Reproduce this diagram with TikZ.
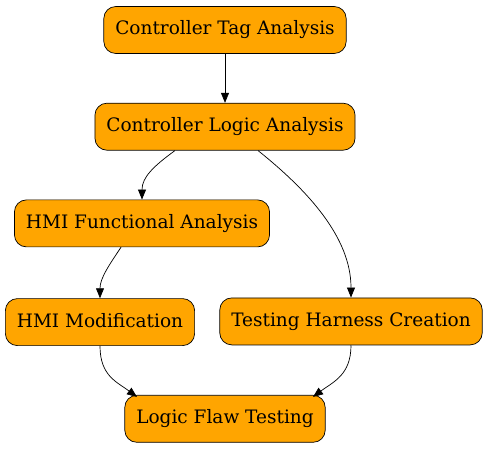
\documentclass[tikz,border=0pt]{standalone}
\usepackage{fontspec}
\setmainfont{DejaVu Serif}
\usepackage{tikz}
\usetikzlibrary{arrows.meta,positioning}

\begin{document}
\begin{tikzpicture}[-{Triangle[length=10pt,width=8pt]},line width=0.7pt,
                    task/.style={draw,fill=orange!100,rounded corners=12pt,
                      minimum height=47pt,inner xsep=11.5pt,
                      text height=13.5pt,text depth=3.5pt,
                      font=\fontsize{18.5}{22}\selectfont}]
  \definecolor{orange}{HTML}{FFA500}
  \useasboundingbox (0,0) rectangle (490pt,-449pt);

  \node[task] (CTA) at (225pt,-30pt)              {Controller Tag Analysis};
  \node[task] (CLA) [below=49pt of CTA]           {Controller Logic Analysis};
  \node[task] (HFA) [below=49pt of CLA,xshift=-83pt] {HMI Functional Analysis};
  \node[task] (HM)  [below=51pt of HFA,xshift=-42pt] {HMI Modification};
  \node[task] (THC) [below=147pt of CLA,xshift=126pt] {Testing Harness Creation};
  \node[task] (LFT) [below=49pt of HM,xshift=125pt]  {Logic Flaw Testing};

  \draw (CTA) -- (CLA);
  \draw ([xshift=-50pt]CLA.south) .. controls +(-22pt,-16pt) and +(0pt,22pt) .. (HFA.north);
  \draw ([xshift=33pt]CLA.south) .. controls +(50pt,-40pt) and +(0pt,60pt) .. (THC.north);
  \draw ([xshift=-21pt]HFA.south) .. controls +(-12pt,-18pt) and +(0pt,20pt) .. (HM.north);
  \draw (HM.south) .. controls +(0pt,-30pt) and +(-20pt,15pt) .. ([xshift=-88pt,yshift=-2pt]LFT.north);
  \draw (THC.south) .. controls +(0pt,-30pt) and +(20pt,15pt) .. ([xshift=88pt,yshift=-2pt]LFT.north);
\end{tikzpicture}
\end{document}
